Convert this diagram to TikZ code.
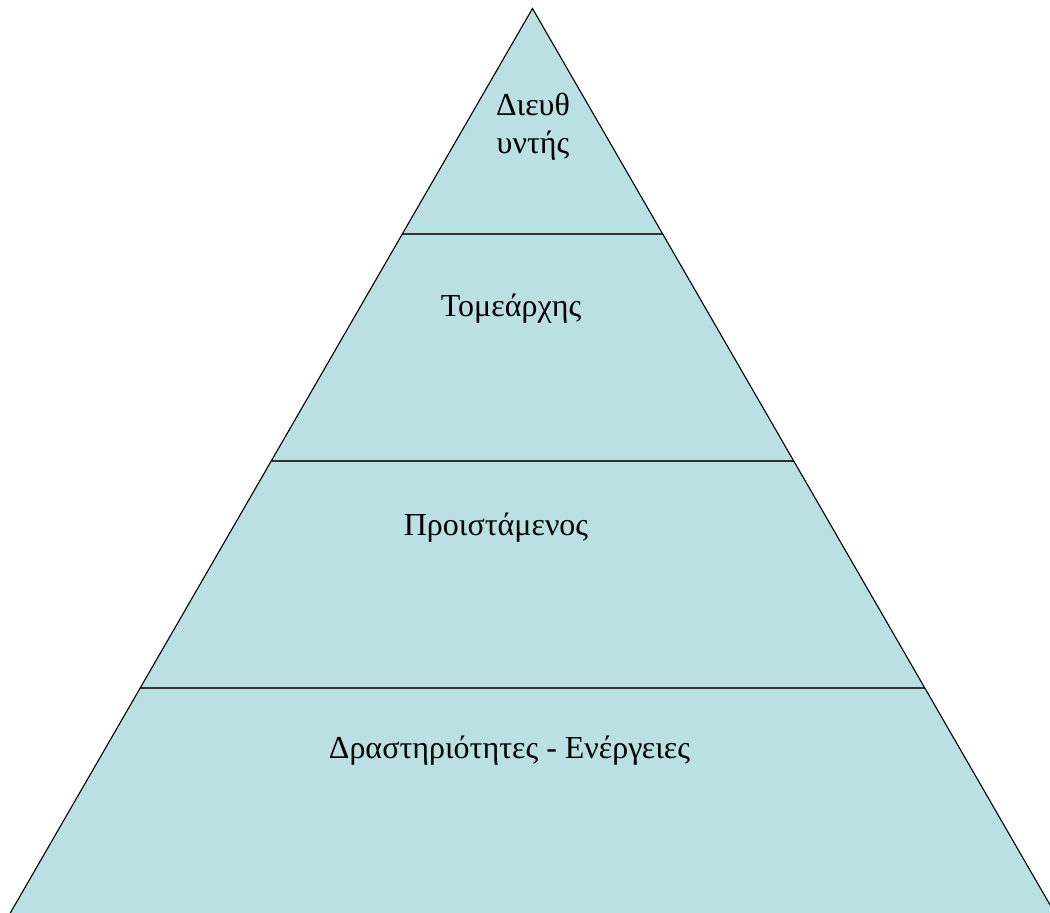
\documentclass[tikz,border=0pt]{standalone}
\usepackage{fontspec}
\setmainfont{Liberation Serif}
\definecolor{pyrfill}{HTML}{BBE0E3}
\begin{document}
\begin{tikzpicture}[x=1pt,y=-1pt,
  lbl/.style={font=\fontsize{32}{38}\selectfont, align=center, inner sep=0pt},
  divider/.style={draw=black!80, line width=2pt}]
\useasboundingbox (0,0) rectangle (1050,913);
\begin{scope}
\clip (0,0) rectangle (1050,913);
\coordinate (apex) at (532.5,8.5);
\coordinate (bl) at (10,913.5);
\coordinate (br) at (1055,913.5);
\fill[pyrfill] (apex) -- (br) -- (bl) -- cycle;
\coordinate (l1) at (403,234);
\coordinate (r1) at (663,234);
\coordinate (l2) at (272,461);
\coordinate (r2) at (794,461);
\coordinate (l3) at (140,688);
\coordinate (r3) at (925,688);
\draw[divider] (l1) -- (r1);
\draw[divider] (l2) -- (r2);
\draw[divider] (l3) -- (r3);
\draw[black, line width=1.1pt, line join=miter] (bl) -- (apex) -- (br);
\end{scope}
\node[lbl] (t1) at (533,127) {Διευθ\\υντής};
\node[lbl] (t2) at (511,309) {Τομεάρχης};
\node[lbl] (t3) at (496,528) {Προιστάμενος};
\node[lbl] (t4) at (509.5,751) {Δραστηριότητες - Ενέργειες};
\end{tikzpicture}
\end{document}
